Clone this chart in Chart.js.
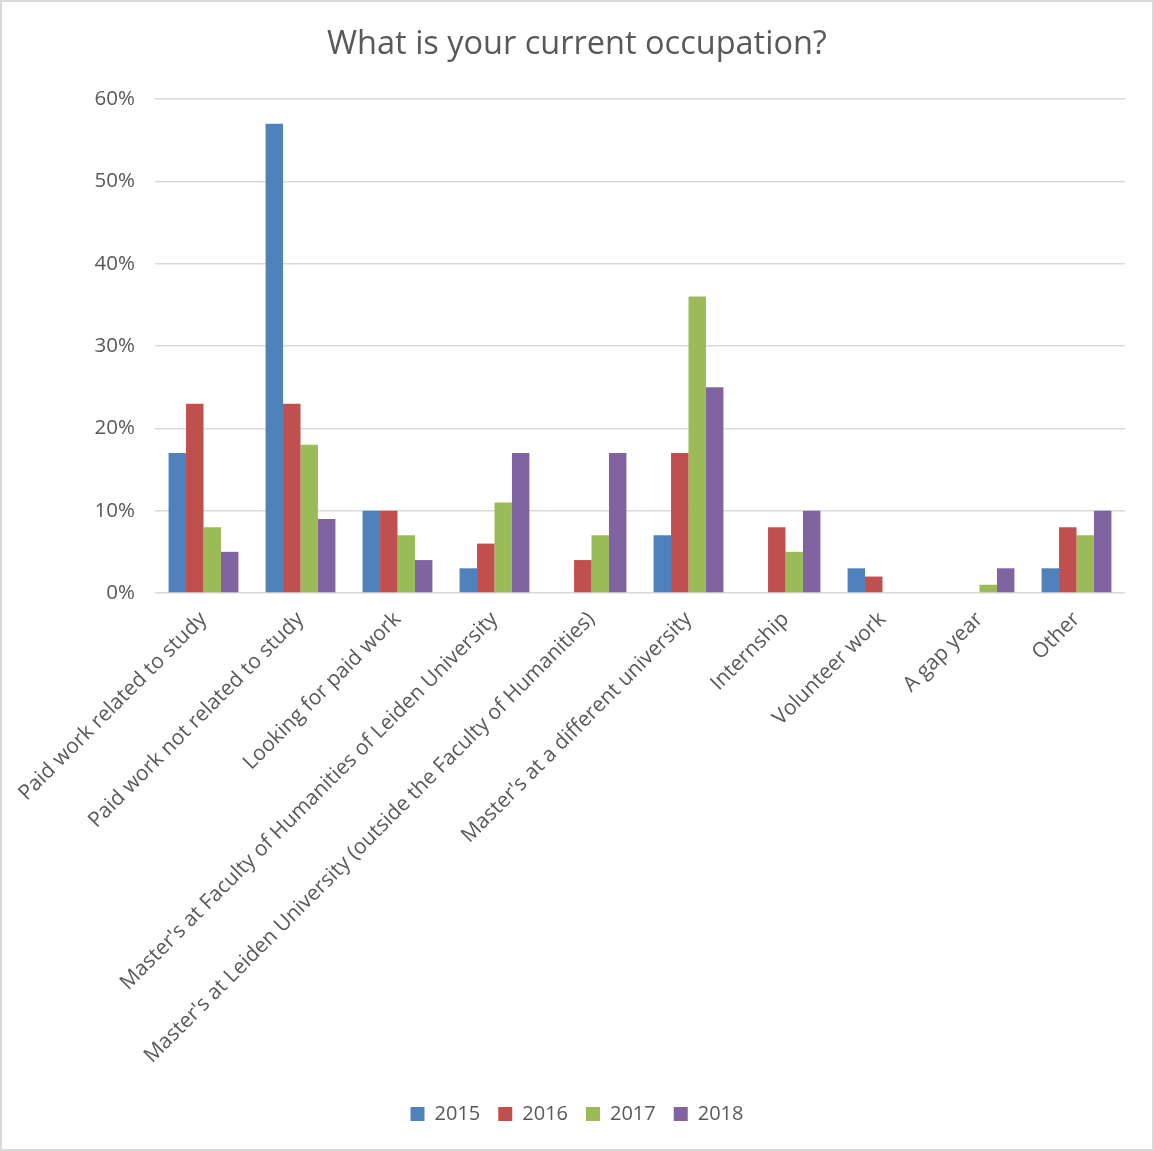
<!DOCTYPE html>
<html>
<head>
<meta charset="utf-8">
<script src="https://cdn.jsdelivr.net/npm/chart.js@4"></script>
<style>
  html, body { margin: 0; padding: 0; background: #fff; }
  #wrap { width: 1154px; height: 1151px; box-sizing: border-box; border: 2px solid #d9d9d9; position: relative; }
</style>
</head>
<body>
<div id="wrap"><canvas id="occChart"></canvas></div>
<script>
// categories and series (percent)
const categories = [
  'Paid work related to study',
  'Paid work not related to study',
  'Looking for paid work',
  "Master's at Faculty of Humanities of Leiden University",
  "Master's at Leiden University (outside the Faculty of Humanities)",
  "Master's at a different university",
  'Internship',
  'Volunteer work',
  'A gap year',
  'Other',
];
const years = ['2015', '2016', '2017', '2018'];
const v2015 = [17, 57, 10, 3, 0, 7, 0, 3, 0, 3];
const v2016 = [23, 23, 10, 6, 4, 17, 8, 2, 0, 8];
const v2017 = [8, 18, 7, 11, 7, 36, 5, 0, 1, 7];
const v2018 = [5, 9, 4, 17, 17, 25, 10, 0, 3, 10];
const yTicks = [0, 10, 20, 30, 40, 50, 60];

const colors = ['#4f81bd', '#c0504d', '#9bbb59', '#8064a2'];
const textColor = '#595959';
const font = "'Open Sans', 'Noto Sans', sans-serif";

function makeSet(label, data, color) {
  return {
    label: label,
    data: data,
    backgroundColor: color,
    borderColor: color,
    borderWidth: 0,
    barPercentage: 1,
    categoryPercentage: 0.72,
  };
}

document.addEventListener('DOMContentLoaded', () => {
  const ctx = document.getElementById('occChart');
  new Chart(ctx, {
    type: 'bar',
    data: {
      labels: categories,
      datasets: [
        makeSet(years[0], v2015, colors[0]),
        makeSet(years[1], v2016, colors[1]),
        makeSet(years[2], v2017, colors[2]),
        makeSet(years[3], v2018, colors[3]),
      ],
    },
    options: {
      animation: false,
      responsive: true,
      maintainAspectRatio: false,
      layout: { padding: { left: 27, right: 27, top: 10, bottom: 15 } },
      plugins: {
        title: {
          display: true,
          text: 'What is your current occupation?',
          color: textColor,
          font: { family: font, size: 32.5, weight: 'normal' },
          padding: { top: 13, bottom: 35 },
        },
        legend: {
          position: 'bottom',
          labels: {
            color: textColor,
            font: { family: font, size: 20 },
            boxWidth: 14,
            boxHeight: 14,
            padding: 18,
          },
        },
        tooltip: { enabled: false },
      },
      scales: {
        x: {
          grid: { display: false },
          border: { display: false },
          ticks: {
            color: textColor,
            font: { family: font, size: 21 },
            maxRotation: 45,
            minRotation: 45,
            autoSkip: false,
            padding: 6,
          },
          afterFit: (scale) => { scale.height = 493; },
        },
        y: {
          min: 0,
          max: 60,
          afterBuildTicks: (scale) => { scale.ticks = yTicks.map((v) => ({ value: v })); },
          grid: { color: '#d9d9d9', lineWidth: 1.5, drawTicks: false },
          border: { display: false },
          ticks: {
            color: textColor,
            font: { family: font, size: 20.5 },
            padding: 20,
            callback: (v) => v + '%',
          },
          afterFit: (scale) => { scale.width = 126; },
        },
      },
    },
  });
});
</script>
</body>
</html>
